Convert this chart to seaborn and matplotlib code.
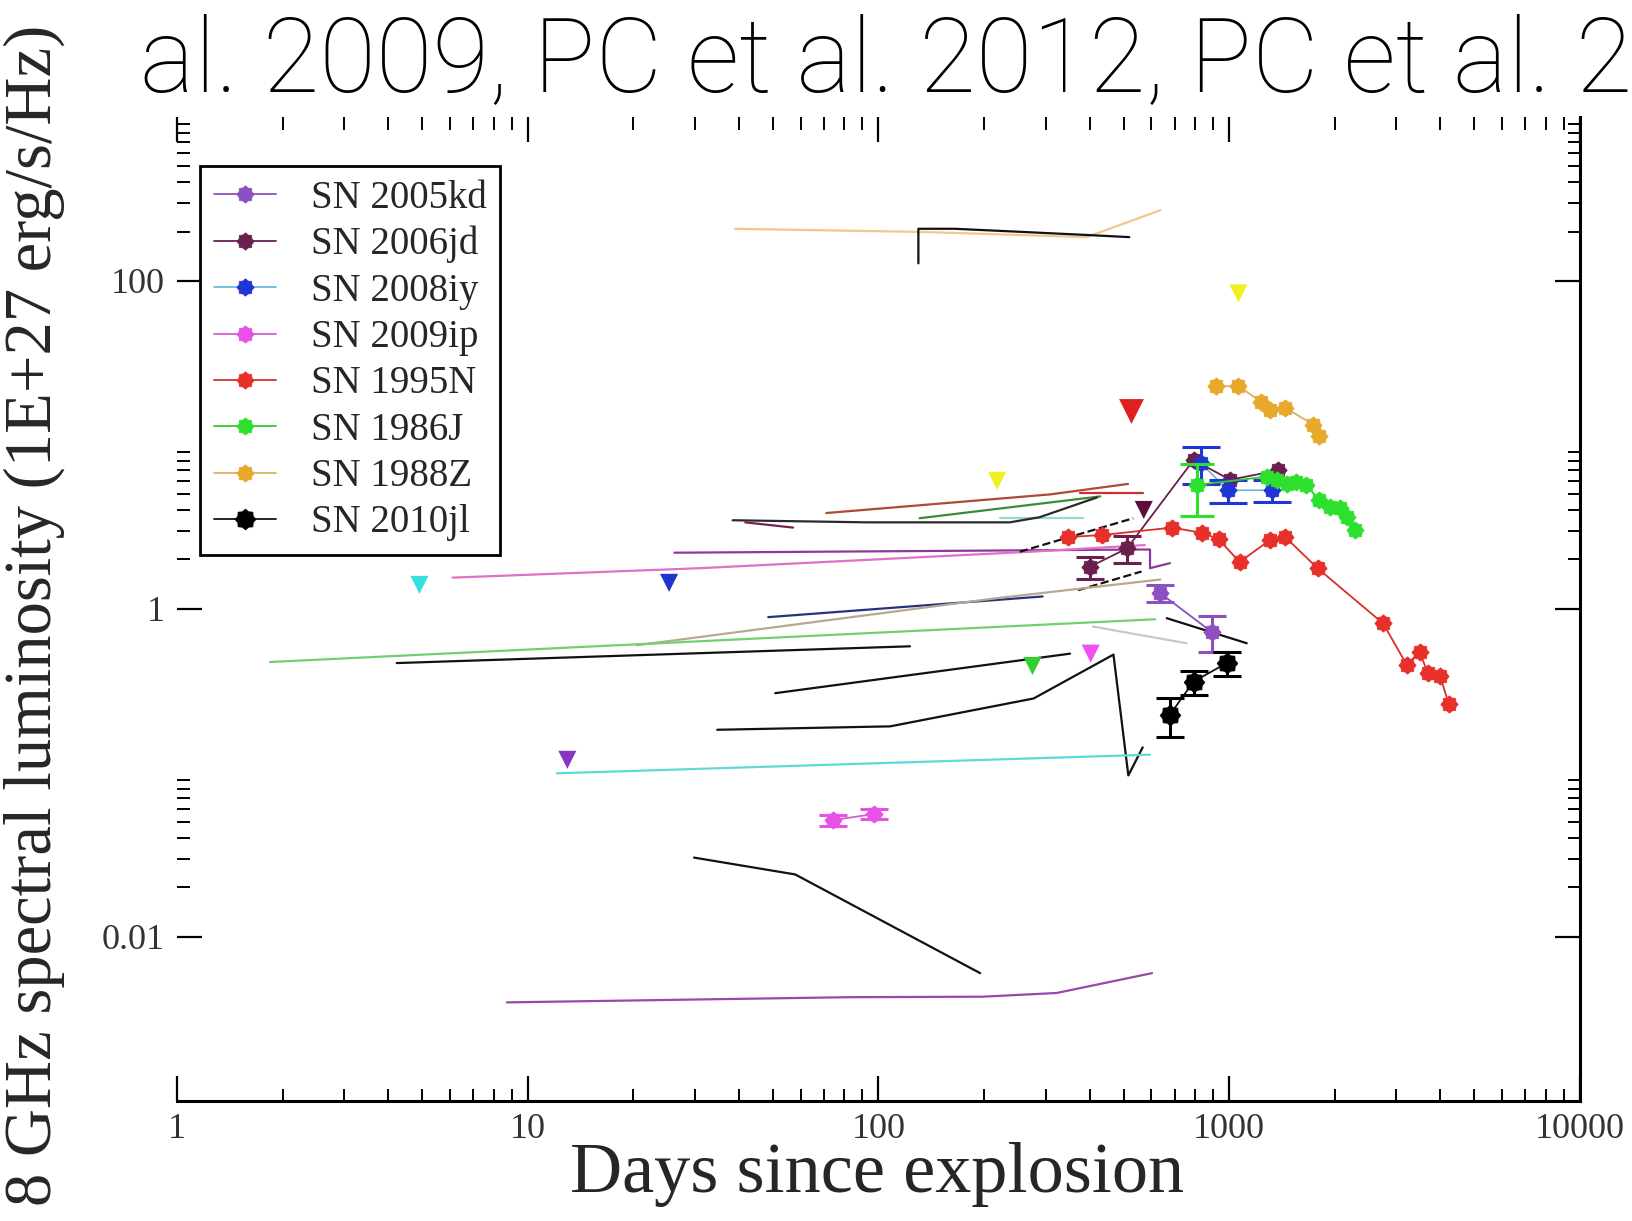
import numpy as np
import matplotlib
matplotlib.use("Agg")
import matplotlib.pyplot as plt
from matplotlib.path import Path
from matplotlib.ticker import FixedLocator, FixedFormatter, NullFormatter
import seaborn as sns

# ---------------- observed light curves ----------------
# days since explosion, 8 GHz luminosity (1E+27 erg/s/Hz), 1-sigma errors (0 = none)
sn2005kd_days = [637, 891]
sn2005kd_lum = [1.245, 0.725]
sn2005kd_err = [0.15, 0.18]

sn2006jd_days = [400, 512, 792, 1007, 1377]
sn2006jd_lum = [1.80, 2.34, 8.09, 6.13, 6.99]
sn2006jd_err = [0.27, 0.44, 0.0, 0.0, 0.0]

sn2008iy_days = [831, 993, 1324]
sn2008iy_lum = [7.74, 5.29, 5.29]
sn2008iy_err = [2.0, 0.85, 0.8]

sn2009ip_days = [74.0, 97.3]
sn2009ip_lum = [0.0514, 0.0561]
sn2009ip_err = [0.004, 0.004]

sn1995n_days = [347, 434, 687, 837, 934, 1071, 1305, 1446, 1787, 2748, 3215, 3492, 3689, 4001, 4228]
sn1995n_lum = [2.74, 2.82, 3.13, 2.91, 2.66, 1.93, 2.62, 2.74, 1.77, 0.815, 0.454, 0.549, 0.404, 0.387, 0.264]

sn1986j_days = [809, 1279, 1370, 1466, 1549, 1660, 1799, 1941, 2078, 2163, 2287]
sn1986j_lum = [5.70, 6.40, 6.13, 5.78, 5.95, 5.70, 4.64, 4.19, 4.13, 3.62, 3.04]
sn1986j_err = [2.0, 0, 0, 0, 0, 0, 0, 0, 0, 0, 0]

sn1988z_days = [915, 1063, 1236, 1305, 1446, 1740, 1799]
sn1988z_lum = [22.8, 22.8, 18.3, 16.3, 16.8, 13.3, 11.3]

sn2010jl_days = [677, 792, 986]
sn2010jl_lum = [0.225, 0.360, 0.468]
sn2010jl_err = [0.06, 0.06, 0.08]

# ---------------- upper limits ----------------
limit_days = [4.91, 25.3, 12.97, 218, 1063, 275, 403, 571]
limit_lum = [1.40, 1.44, 0.120, 6.04, 83.9, 0.448, 0.533, 4.01]
limit_group = ["cyan", "blue", "violet", "yellow", "yellow", "green", "magenta", "maroon"]
big_limit_days = [526]
big_limit_lum = [16.1]

# ---------------- model curves ----------------
model_a_days = [39, 133, 392, 637]
model_a_lum = [208, 199, 185, 270]
model_b_days = [130, 130, 165, 258, 406, 519]
model_b_lum = [128, 208, 208, 199, 190, 185]
model_c_days = [71, 309, 515]
model_c_lum = [3.84, 4.99, 5.78]
model_c2_days = [376, 567]
model_c2_lum = [5.07, 5.07]
model_d_days = [131, 429]
model_d_lum = [3.57, 4.85]
model_e_days = [222, 384]
model_e_lum = [3.57, 3.57]
model_f_days = [38.4, 92.7, 237, 288, 420]
model_f_lum = [3.47, 3.37, 3.37, 3.62, 4.78]
model_f2_days = [41.7, 57.1]
model_f2_lum = [3.37, 3.13]
model_g_days = [26.2, 556, 595, 595, 678]
model_g_lum = [2.20, 2.30, 2.30, 1.77, 1.90]
model_h_days = [6.1, 31, 271, 575]
model_h_lum = [1.55, 1.77, 2.23, 2.45]
model_i_days = [48.5, 294]
model_i_lum = [0.89, 1.19]
model_i2_days = [371, 563]
model_i2_lum = [1.30, 1.69]
model_t_days = [253, 533]
model_t_lum = [2.23, 3.57]
model_j_days = [20.5, 216, 637]
model_j_lum = [0.60, 1.16, 1.51]
model_k_days = [1.84, 616]
model_k_lum = [0.474, 0.864]
model_l_days = [409, 756]
model_l_lum = [0.78, 0.617]
model_m_days = [664, 1123]
model_m_lum = [0.877, 0.617]
model_n_days = [4.23, 123]
model_n_lum = [0.467, 0.591]
model_o_days = [50.8, 352]
model_o_lum = [0.306, 0.533]
model_p_days = [34.7, 108, 277, 468, 516, 567]
model_p_lum = [0.183, 0.192, 0.284, 0.526, 0.0964, 0.143]
model_q_days = [12.1, 595]
model_q_lum = [0.0993, 0.129]
model_r_days = [29.8, 57.9, 195]
model_r_lum = [0.0304, 0.0240, 0.0060]
model_s_days = [8.72, 82.0, 198, 322, 603]
model_s_lum = [0.00398, 0.00428, 0.00431, 0.00454, 0.0060]

x_tick_values = [1, 10, 100, 1000, 10000]
x_tick_labels = ["1", "10", "100", "1000", "10000"]
y_tick_values = [0.01, 1, 100]
y_tick_labels = ["0.01", "1", "100"]

# ---------------- style ----------------
sns.set_theme(style="white")
plt.rcParams["font.family"] = ["Liberation Serif", "DejaVu Serif"]
plt.rcParams["axes.linewidth"] = 2.0

fig = plt.figure(figsize=(16.32, 12.21), dpi=100)
fig.patch.set_facecolor("white")
ax = fig.add_axes([0.1085, 0.0985, 0.8595, 0.8057])
ax.set_facecolor("white")
ax.set_xscale("log")
ax.set_yscale("log")
ax.set_xlim(1, 10000)
ax.set_ylim(1e-3, 1e3)

# bumpy round symbol used for the detections
ang = np.linspace(0, 2 * np.pi, 17)[:-1]
rad = np.where(np.arange(16) % 2 == 0, 1.0, 0.8)
pts = np.column_stack([rad * np.cos(ang), rad * np.sin(ang)])
blob = Path(np.vstack([pts, pts[:1]]), closed=True)

BLACK = "#111111"
models = [
    (model_a_days, model_a_lum, "#f2c88a", "-"),
    (model_b_days, model_b_lum, BLACK, "-"),
    (model_c_days, model_c_lum, "#b04a38", "-"),
    (model_c2_days, model_c2_lum, "#cc3030", "-"),
    (model_d_days, model_d_lum, "#3a8a3a", "-"),
    (model_e_days, model_e_lum, "#9ad8d8", "-"),
    (model_f_days, model_f_lum, "#2a2a2a", "-"),
    (model_f2_days, model_f2_lum, "#7a2050", "-"),
    (model_g_days, model_g_lum, "#8a3a9a", "-"),
    (model_h_days, model_h_lum, "#e070c8", "-"),
    (model_i_days, model_i_lum, "#283080", "-"),
    (model_i2_days, model_i2_lum, BLACK, "--"),
    (model_t_days, model_t_lum, BLACK, "--"),
    (model_j_days, model_j_lum, "#b8a890", "-"),
    (model_k_days, model_k_lum, "#70d070", "-"),
    (model_l_days, model_l_lum, "#c8c8c8", "-"),
    (model_m_days, model_m_lum, BLACK, "-"),
    (model_n_days, model_n_lum, BLACK, "-"),
    (model_o_days, model_o_lum, BLACK, "-"),
    (model_p_days, model_p_lum, BLACK, "-"),
    (model_q_days, model_q_lum, "#60d8d8", "-"),
    (model_r_days, model_r_lum, BLACK, "-"),
    (model_s_days, model_s_lum, "#9848a8", "-"),
]
for d, l, c, ls in models:
    sns.lineplot(x=d, y=l, ax=ax, color=c, linestyle=ls, linewidth=1.6,
                 estimator=None, sort=False, legend=False, zorder=2)

# upper limits
limit_palette = {"cyan": "#38e0e0", "blue": "#1f35c8", "violet": "#8a34c4",
                 "yellow": "#f0f020", "green": "#30d030", "magenta": "#f050f0",
                 "maroon": "#5a1038"}
sns.scatterplot(x=limit_days, y=limit_lum, hue=limit_group, palette=limit_palette,
                marker="v", s=170, linewidth=0, legend=False, ax=ax, zorder=4)
sns.scatterplot(x=big_limit_days, y=big_limit_lum, color="#e02020", marker="v",
                s=320, linewidth=0, legend=False, ax=ax, zorder=4)

# detections
series = [
    ("SN 2005kd", sn2005kd_days, sn2005kd_lum, sn2005kd_err, "#8c50c0", "#8c50c0", 10),
    ("SN 2006jd", sn2006jd_days, sn2006jd_lum, sn2006jd_err, "#6a1f4f", "#6a1f4f", 10),
    ("SN 2008iy", sn2008iy_days, sn2008iy_lum, sn2008iy_err, "#70b8e0", "#1f35d6", 14),
    ("SN 2009ip", sn2009ip_days, sn2009ip_lum, sn2009ip_err, "#d060d0", "#e850e8", 10),
    ("SN 1995N", sn1995n_days, sn1995n_lum, None, "#d83028", "#e8302a", 10),
    ("SN 1986J", sn1986j_days, sn1986j_lum, sn1986j_err, "#30c830", "#2ee02e", 12),
    ("SN 1988Z", sn1988z_days, sn1988z_lum, None, "#e0b060", "#e8a92a", 10),
    ("SN 2010jl", sn2010jl_days, sn2010jl_lum, sn2010jl_err, "#111111", "#000000", 10),
]
handles = []
for name, d, l, err, lc, mc, cap in series:
    ms = 15 if name == "SN 2010jl" else 12.5
    sns.lineplot(x=d, y=l, ax=ax, color=lc, linewidth=1.3, marker=blob, markersize=ms,
                 markerfacecolor=mc, markeredgecolor=mc, markeredgewidth=0.5,
                 estimator=None, sort=False, legend=False, label=name, zorder=5)
    handles.append(ax.lines[-1])
    if err is not None:
        keep = [i for i, e in enumerate(err) if e > 0]
        ax.errorbar([d[i] for i in keep], [l[i] for i in keep], yerr=[err[i] for i in keep],
                    fmt="none", ecolor=mc, elinewidth=2.2, capsize=cap, capthick=2.2, zorder=5)

# axes, ticks
for side in ("top", "left"):
    ax.spines[side].set_visible(False)
for side in ("right", "bottom"):
    ax.spines[side].set_color("black")
    ax.spines[side].set_linewidth(2.2)

ax.xaxis.set_major_locator(FixedLocator(x_tick_values))
ax.xaxis.set_major_formatter(FixedFormatter(x_tick_labels))
ax.xaxis.set_minor_locator(FixedLocator([k * 10.0 ** e for e in range(0, 4) for k in range(2, 10)]))
ax.xaxis.set_minor_formatter(NullFormatter())
ax.yaxis.set_major_locator(FixedLocator(y_tick_values))
ax.yaxis.set_major_formatter(FixedFormatter(y_tick_labels))
ax.yaxis.set_minor_locator(FixedLocator([k * 10.0 ** e for e in (-4, -2, 0, 2) for k in range(2, 10)]))
ax.yaxis.set_minor_formatter(NullFormatter())
ax.tick_params(which="both", direction="in", top=True, right=True, left=True, bottom=True,
               color="black")
ax.tick_params(which="major", length=18, width=1.6, labelsize=26, pad=9, labelcolor="#333333")
ax.tick_params(which="minor", length=9, width=1.4)
ax.grid(False)

leg = ax.legend(handles, [s[0] for s in series], loc="upper left",
                bbox_to_anchor=(200 / 1632, 1 - 166 / 1221), bbox_transform=fig.transFigure,
                borderaxespad=0, fontsize=28, frameon=True, fancybox=False,
                edgecolor="black", facecolor="white", framealpha=1,
                handlelength=1.6, handletextpad=0.9, labelspacing=0.24, borderpad=0.35)
leg.get_frame().set_linewidth(2.0)

fig.text(0.5374, 0.0240, "Days since explosion", fontsize=52, ha="center", va="baseline")
fig.text(0.002, 0.4963, "8 GHz spectral luminosity (1E+27 erg/s/Hz)", rotation=90,
         fontsize=48, ha="left", va="center")
fig.text(140 / 1632, 1 - 92 / 1221, "al. 2009, PC et al. 2012, PC et al. 2",
         fontsize=74.4, family=["Roboto", "DejaVu Sans"], fontweight="light",
         ha="left", va="baseline", color="black", zorder=10)

fig.savefig("out.png", dpi=100, facecolor="white")
